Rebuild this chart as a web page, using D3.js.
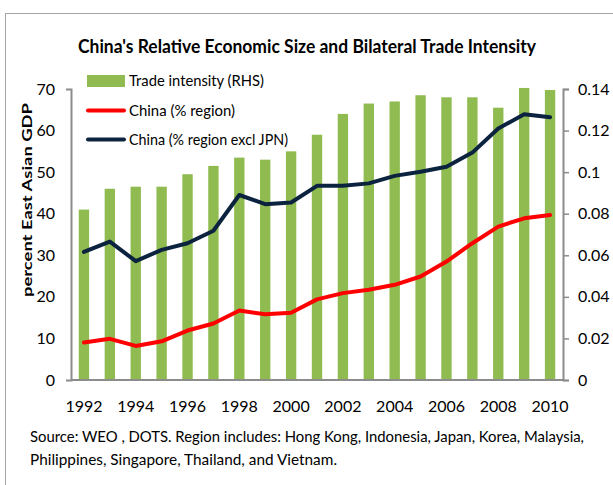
<!DOCTYPE html>
<html>
<head>
<meta charset="utf-8">
<script src="https://cdn.jsdelivr.net/npm/d3@7"></script>
<style>
  body { margin: 0; background: #fff; }
  svg { display: block; }
  text { font-family: "Lato", "Open Sans", sans-serif; fill: #000; }
</style>
</head>
<body>
<div id="chart"></div>
<script>
// Data
const years = d3.range(1992, 2011);
const tradeIntensity = [0.082, 0.092, 0.093, 0.093, 0.099, 0.103, 0.107, 0.106, 0.110, 0.118,
                        0.128, 0.133, 0.134, 0.137, 0.136, 0.136, 0.131, 0.1405, 0.1395];
const chinaRegion = [9.0, 9.9, 8.2, 9.3, 11.9, 13.6, 16.7, 15.8, 16.2, 19.4,
                     20.9, 21.7, 22.9, 24.9, 28.5, 32.9, 36.9, 38.9, 39.7];
const chinaExJpn = [30.8, 33.3, 28.6, 31.3, 32.9, 35.9, 44.5, 42.3, 42.7, 46.7,
                    46.7, 47.3, 49.1, 50.1, 51.3, 54.7, 60.5, 63.9, 63.2];
const leftTicks = [0, 10, 20, 30, 40, 50, 60, 70];
const rightTicks = [0, 0.02, 0.04, 0.06, 0.08, 0.1, 0.12, 0.14];
const xTickYears = d3.range(1992, 2011, 2);

const W = 613, H = 485;
const plot = { left: 71, right: 563, top: 89, bottom: 380 };

const colors = {
  bar: '#8fbb50',
  red: '#ff0000',
  navy: '#0c2340',
  axis: '#8c8c8c',
  frame: '#a6a6a6'
};

const svg = d3.select('#chart').append('svg')
  .attr('width', W)
  .attr('height', H);

// frame around the whole chart
svg.append('rect')
  .attr('x', 5.5).attr('y', 13.5)
  .attr('width', 640).attr('height', 520)
  .attr('fill', 'none')
  .attr('stroke', colors.frame);

// Scales
const x = d3.scaleBand()
  .domain(years)
  .range([plot.left, plot.right])
  .paddingInner(0.6)
  .paddingOuter(0.3);
const yL = d3.scaleLinear().domain([0, 70]).range([plot.bottom, plot.top]);
const yR = d3.scaleLinear().domain([0, 0.14]).range([plot.bottom, plot.top]);

// Title
svg.append('text')
  .attr('x', 307).attr('y', 53)
  .attr('text-anchor', 'middle')
  .attr('font-size', '18px')
  .attr('font-weight', 'bold')
  .attr('textLength', 458)
  .attr('lengthAdjust', 'spacingAndGlyphs')
  .text("China's Relative Economic Size and Bilateral Trade Intensity");

// Bars (RHS)
svg.append('g').selectAll('rect')
  .data(years)
  .join('rect')
  .attr('x', d => x(d))
  .attr('width', x.bandwidth())
  .attr('y', (d, i) => yR(tradeIntensity[i]))
  .attr('height', (d, i) => yR(0) - yR(tradeIntensity[i]))
  .attr('fill', colors.bar);

// Axes
const leftAxis = d3.axisLeft(yL).tickValues(leftTicks).tickSize(5).tickPadding(11).tickFormat(d3.format('d'));
const gL = svg.append('g').attr('transform', `translate(${plot.left},0)`).call(leftAxis);

const rightAxis = d3.axisRight(yR).tickValues(rightTicks).tickSize(6).tickPadding(9)
  .tickFormat(d => d === 0 ? '0' : String(+d.toFixed(2)));
const gR = svg.append('g').attr('transform', `translate(${plot.right},0)`).call(rightAxis);

const bottomAxis = d3.axisBottom(x).tickValues(xTickYears).tickSize(0).tickPadding(21);
const gB = svg.append('g').attr('transform', `translate(0,${plot.bottom})`).call(bottomAxis);

[gL, gR, gB].forEach(g => {
  g.select('.domain').attr('stroke', colors.axis).attr('stroke-width', 2);
  g.selectAll('.tick line').attr('stroke', colors.axis).attr('stroke-width', 1.5);
  g.selectAll('.tick text')
    .attr('font-family', 'Lato, "Open Sans", sans-serif')
    .attr('font-size', '16px')
    .attr('fill', '#000');
});
gB.select('.domain').attr('d', `M${plot.left},0H${plot.right}`);
gL.selectAll('.tick line').attr('stroke', 'none');

// Lines (LHS)
const line = d3.line()
  .x((d, i) => x(years[i]) + x.bandwidth() / 2)
  .y(d => yL(d));

svg.append('path')
  .datum(chinaRegion)
  .attr('fill', 'none')
  .attr('stroke', colors.red)
  .attr('stroke-width', 4)
  .attr('stroke-linejoin', 'round')
  .attr('stroke-linecap', 'round')
  .attr('d', line);

svg.append('path')
  .datum(chinaExJpn)
  .attr('fill', 'none')
  .attr('stroke', colors.navy)
  .attr('stroke-width', 4)
  .attr('stroke-linejoin', 'round')
  .attr('stroke-linecap', 'round')
  .attr('d', line);

// Y axis title
svg.append('text')
  .attr('transform', 'translate(32,200) rotate(-90)')
  .attr('text-anchor', 'middle')
  .attr('font-size', '14px')
  .attr('font-weight', 'bold')
  .attr('textLength', 194)
  .attr('lengthAdjust', 'spacingAndGlyphs')
  .text('percent East Asian GDP');

// Legend
const legend = [
  { label: 'Trade intensity (RHS)', type: 'bar', color: colors.bar, y: 81, len: 135 },
  { label: 'China (% region)', type: 'line', color: colors.red, y: 110.5, len: 106 },
  { label: 'China (% region excl JPN)', type: 'line', color: colors.navy, y: 139.5, len: 159 }
];
const lg = svg.append('g');
legend.forEach(d => {
  if (d.type === 'bar') {
    lg.append('rect').attr('x', 87).attr('y', d.y - 6).attr('width', 38).attr('height', 12).attr('fill', d.color);
  } else {
    lg.append('line').attr('x1', 88).attr('x2', 124).attr('y1', d.y).attr('y2', d.y)
      .attr('stroke', d.color).attr('stroke-width', 4).attr('stroke-linecap', 'round');
  }
  lg.append('text').attr('x', 129).attr('y', d.y + 5)
    .attr('font-size', '15px')
    .attr('textLength', d.len)
    .attr('lengthAdjust', 'spacingAndGlyphs')
    .text(d.label);
});

// Source note
const notes = [
  'Source: WEO , DOTS. Region includes: Hong Kong, Indonesia, Japan, Korea, Malaysia,',
  'Philippines, Singapore, Thailand, and Vietnam.'
];
const noteLen = [554, 307];
notes.forEach((t, i) => {
  svg.append('text')
    .attr('x', 30).attr('y', 442 + i * 23)
    .attr('font-size', '15px')
    .attr('textLength', noteLen[i])
    .attr('lengthAdjust', 'spacingAndGlyphs')
    .text(t);
});
</script>
</body>
</html>
